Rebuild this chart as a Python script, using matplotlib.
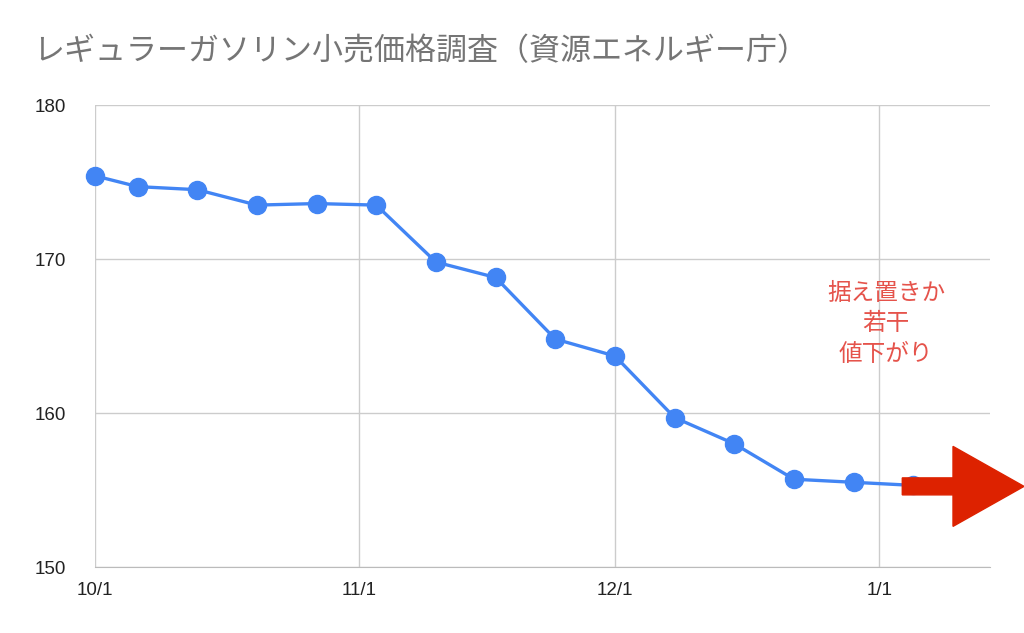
import datetime as dt

import matplotlib
matplotlib.use("Agg")
import matplotlib.pyplot as plt
import matplotlib.dates as mdates
from matplotlib.patches import FancyArrow

plt.rcParams["font.family"] = ["Noto Sans CJK JP", "DejaVu Sans"]

# 週次データ (月/日, 円/L) — 画像から読み取り
dates = ["2023-10-01", "2023-10-06", "2023-10-13", "2023-10-20", "2023-10-27",
         "2023-11-03", "2023-11-10", "2023-11-17", "2023-11-24", "2023-12-01",
         "2023-12-08", "2023-12-15", "2023-12-22", "2023-12-29", "2024-01-05"]
prices = [175.4, 174.7, 174.5, 173.5, 173.6, 173.5, 169.8, 168.8, 164.8, 163.7,
          159.7, 158.0, 155.7, 155.5, 155.3]
tick_dates = ["2023-10-01", "2023-11-01", "2023-12-01", "2024-01-01"]
tick_labels = ["10/1", "11/1", "12/1", "1/1"]
y_ticks = [150, 160, 170, 180]

title = "レギュラーガソリン小売価格調査（資源エネルギー庁）"
note = "据え置きか\n若干\n値下がり"

x = [dt.datetime.fromisoformat(d) for d in dates]
xt = [dt.datetime.fromisoformat(d) for d in tick_dates]

fig = plt.figure(figsize=(10.24, 6.33), dpi=100)
ax = fig.add_axes([95 / 1024, 1 - 567 / 633, (990 - 95) / 1024, (567 - 105) / 633])

ax.plot(x, prices, color="#4285f4", lw=2.4, marker="o", ms=13, zorder=3,
        clip_on=False)

ax.set_ylim(150, 180)
ax.set_xlim(xt[0], dt.datetime(2024, 1, 14))
ax.set_yticks(y_ticks)
ax.set_xticks(xt)
ax.set_xticklabels(tick_labels)
ax.grid(color="#cccccc", lw=1)
for name, s in ax.spines.items():
    s.set_visible(name == "bottom")
ax.spines["bottom"].set_color("#bbbbbb")
ax.tick_params(length=0, labelsize=13.5, labelcolor="#222222")
ax.tick_params(axis="y", pad=21)
ax.tick_params(axis="x", pad=11)
for lab in ax.get_xticklabels() + ax.get_yticklabels():
    lab.set_family(["Liberation Sans", "DejaVu Sans"])

fig.text(33 / 1024, 1 - 52 / 633, title, fontsize=22.3, color="#757575",
         ha="left", va="center")

ax.text(dt.datetime(2024, 1, 1, 20), 165.8, note, fontsize=17, color="#e5534b",
        ha="center", va="center", linespacing=1.42)

# 右向きの赤矢印 (最終点から枠外へ)
fig.canvas.draw()
px, py = ax.transData.transform((mdates.date2num(x[-1]), prices[-1]))
start = px - 11
arrow = FancyArrow(start, py - 1, 1024 - start, 0, width=17, head_width=80,
                   head_length=71, length_includes_head=True,
                   color="#dd2200", transform=None, zorder=5)
fig.patches.append(arrow)

fig.savefig("out.png", dpi=100)
